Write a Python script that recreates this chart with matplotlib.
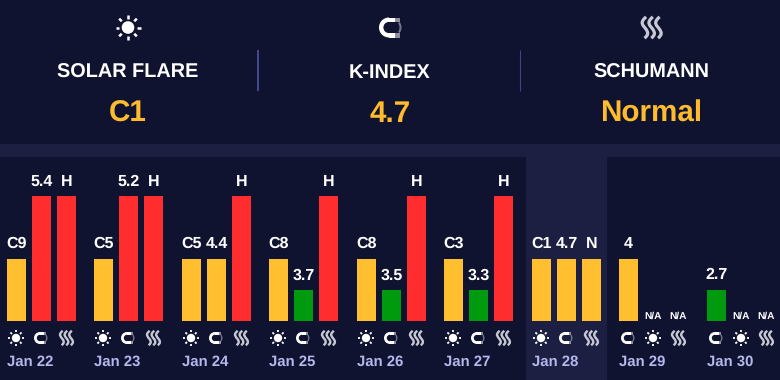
import matplotlib
matplotlib.use("Agg")
import matplotlib.pyplot as plt
from matplotlib.patches import Circle, Wedge, PathPatch, Rectangle
from matplotlib.path import Path
import math

plt.rcParams['font.family'] = ['Liberation Sans', 'DejaVu Sans']
plt.rcParams['text.hinting'] = 'no_hinting'

# ---------- data ----------
days = ["Jan 22", "Jan 23", "Jan 24", "Jan 25", "Jan 26", "Jan 27", "Jan 28", "Jan 29", "Jan 30"]
slot_kinds = [["sun", "mag", "wave"]] * 7 + [["mag", "sun", "wave"]] * 2
slot_labels = [
    ["C9", "5.4", "H"], ["C5", "5.2", "H"], ["C5", "4.4", "H"],
    ["C8", "3.7", "H"], ["C8", "3.5", "H"], ["C3", "3.3", "H"],
    ["C1", "4.7", "N"], ["4", "N/A", "N/A"], ["2.7", "N/A", "N/A"],
]
slot_levels = [
    [2, 4, 4], [2, 4, 4], [2, 2, 4],
    [2, 1, 4], [2, 1, 4], [2, 1, 4],
    [2, 2, 2], [2, 0, 0], [1, 0, 0],
]
summary_titles = ["SOLAR FLARE", "K-INDEX", "SCHUMANN"]
summary_values = ["C1", "4.7", "Normal"]

BG = "#0f1330"
BAND = "#1c1f42"
AMBER = "#fdbb2d"
level_colors = {0: BG, 1: "#009a0f", 2: "#ffbf2e", 4: "#ff2d2d"}

W, H = 780, 380
fig = plt.figure(figsize=(W / 100, H / 100), dpi=100, facecolor=BG)

# Canvas axes in pixel units
ax = fig.add_axes([0, 0, 1, 1])
ax.set_xlim(0, W)
ax.set_ylim(H, 0)
ax.axis("off")

# Bar axes: baseline at y=321 px, top at y=196 px
bx = fig.add_axes([0, (H - 321) / H, 1, 125 / H], zorder=2)
bx.set_xlim(0, W)
bx.set_ylim(0, 4)
bx.axis("off")
bx.patch.set_alpha(0)

ax.add_patch(Rectangle((0, 144), W, 13, color=BAND, lw=0))
ax.add_patch(Rectangle((526, 157), 81, H - 157, color=BAND, lw=0))
ax.plot([258, 258], [50, 90.5], color="#4a4f98", lw=1.3, solid_capstyle="butt")
ax.plot([519.5, 519.5], [50, 90.5], color="#3f4488", lw=0.8, solid_capstyle="butt")


def sun(cx, cy, r, r1, r2, lw):
    ax.add_patch(Circle((cx, cy), r, color="white", lw=0))
    for k in range(8):
        a = k * math.pi / 4
        ax.plot([cx + r1 * math.cos(a), cx + r2 * math.cos(a)],
                [cy + r1 * math.sin(a), cy + r2 * math.sin(a)],
                color="white", lw=lw, solid_capstyle="butt")


def magnet(cx, cy, s):
    # C open to the right: round back, flat arms, grey tips, faint field arc
    r, t = 10 * s, 4 * s + 0.4
    ax.add_patch(Wedge((cx, cy), r, 90, 270, width=t, color="white", lw=0))
    for y0 in (cy - r, cy + r - t):
        ax.add_patch(Rectangle((cx, y0), 0.6 * r, t, color="white", lw=0))
        ax.add_patch(Rectangle((cx + 0.6 * r, y0), 0.45 * r, t, color="#8d8d9e", lw=0))
    ax.add_patch(Wedge((cx + 0.3 * r, cy), 0.95 * r, -36, 36, width=1.6 * s + 0.4,
                       color="#77778c", lw=0))


def waves(cx, cy, s, lw):
    for dx in (-5.4, 0, 5.4):
        x0 = cx + dx * s
        verts = [(x0 + 1.5 * s, cy - 8.5 * s),
                 (x0 - 4.5 * s, cy - 3.5 * s), (x0 - 0.5 * s, cy - 1.5 * s), (x0 + 1.5 * s, cy + 1.5 * s),
                 (x0 + 3.2 * s, cy + 4.0 * s), (x0 + 3.5 * s, cy + 6.0 * s), (x0 + 0.2 * s, cy + 8.5 * s)]
        codes = [Path.MOVETO] + [Path.CURVE4] * 6
        ax.add_patch(PathPatch(Path(verts, codes), fill=False, ec="#c8c8d4", lw=lw))


def icon(kind, cx, cy, big=False):
    if kind == "sun":
        if big:
            sun(cx, cy, 6.3, 8.8, 12.5, 1.8)
        else:
            sun(cx, cy, 4.2, 5.6, 7.9, 1.3)
    elif kind == "mag":
        magnet(cx, cy, 1.0 if big else 0.6)
    else:
        waves(cx, cy, 1.25 if big else 0.85, 2.3 if big else 1.7)


# Summary header
for x, kind, title, value in zip([128, 390, 651], ["sun", "mag", "wave"], summary_titles, summary_values):
    icon(kind, x if kind != "mag" else 389, 27.5, big=True)
    ax.text(x, 77.5, title, color="white", fontsize=14.3, fontweight="bold", ha="center", va="baseline")
    ax.text(x - (0.5 if kind == "sun" else 0), 122, value, color=AMBER, fontsize=21.3, fontweight="bold",
            ha="center", va="baseline")

# Day groups
group_starts = [7, 94, 182, 269, 357, 444, 532, 619, 707]
slot_step = 25
bar_w = 19
for g, start in enumerate(group_starts):
    xs = [start + i * slot_step + bar_w / 2 for i in range(3)]
    lv = slot_levels[g]
    bx.bar(xs, lv, width=bar_w, color=[level_colors[v] for v in lv], lw=0)
    for x, v, lab, kind in zip(xs, lv, slot_labels[g], slot_kinds[g]):
        if lab == "N/A":
            bx.annotate(lab, (x, 0), xytext=(0, 1.4), textcoords="offset points", color="white",
                        fontsize=7.3, fontweight="bold", ha="center", va="baseline", annotation_clip=False)
        else:
            bx.annotate(lab, (x, v), xytext=(0, 7.5), textcoords="offset points", color="white",
                        fontsize=11.5, fontweight="bold", ha="center", va="baseline", annotation_clip=False)
        icon(kind, x - (1.5 if kind == "mag" else 0.5), 338)
    ax.text(start, 365.5, days[g], color="#b4b8ec", fontsize=10.7, fontweight="bold", ha="left", va="baseline")

fig.savefig("out.png", dpi=100, facecolor=BG)
